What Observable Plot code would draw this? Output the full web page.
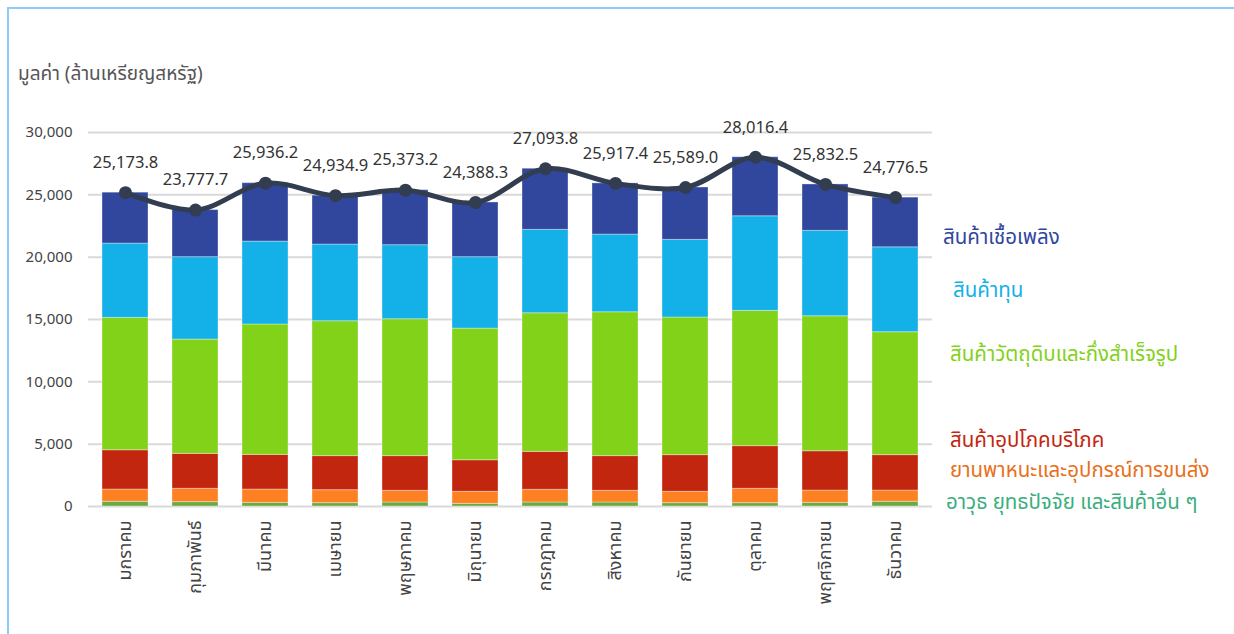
<!DOCTYPE html>
<html>
<head>
<meta charset="utf-8">
<script src="https://cdn.jsdelivr.net/npm/d3@7"></script>
<script src="https://cdn.jsdelivr.net/npm/@observablehq/plot@0.6"></script>
<style>
  html, body { margin: 0; padding: 0; background: #fff; }
  body { width: 1234px; height: 634px; overflow: hidden; position: relative;
         font-family: "Noto Sans Thai", "Noto Sans", "Open Sans", sans-serif; }
  #frame { position: absolute; left: 7px; top: 7px; width: 1240px; height: 640px;
           border-left: 2px solid #8ecbf5; border-top: 2px solid #8ecbf5; box-sizing: border-box; }
  #chart { position: absolute; left: 0; top: 0; }
  #ytitle { position: absolute; left: 18px; top: 60px; font-size: 19px; color: #555; }
  .leg { position: absolute; font-size: 20.5px; white-space: nowrap; }
</style>
</head>
<body>
<div id="frame"></div>
<div id="chart"></div>
<div id="ytitle">มูลค่า (ล้านเหรียญสหรัฐ)</div>
<div id="legend"></div>
<script>
const months = ["มกราคม","กุมภาพันธ์","มีนาคม","เมษายน","พฤษภาคม","มิถุนายน","กรกฎาคม","สิงหาคม","กันยายน","ตุลาคม","พฤศจิกายน","ธันวาคม"];
const seriesNames = ["อาวุธ ยุทธปัจจัย และสินค้าอื่น ๆ","ยานพาหนะและอุปกรณ์การขนส่ง","สินค้าอุปโภคบริโภค","สินค้าวัตถุดิบและกึ่งสำเร็จรูป","สินค้าทุน","สินค้าเชื้อเพลิง"];
// values in million USD
const arms     = [380, 350, 290, 270, 320, 210, 320, 320, 270, 270, 290, 380];
const vehicles = [980, 1070, 1070, 1040, 940, 970, 1020, 940, 910, 1150, 990, 900];
const consumer = [3150, 2800, 2780, 2730, 2780, 2530, 3040, 2780, 2940, 3420, 3150, 2840];
const rawMat   = [10620, 9170, 10460, 10820, 10980, 10560, 11120, 11540, 11040, 10850, 10830, 9860];
const capital  = [5960, 6610, 6650, 6150, 5940, 5730, 6690, 6230, 6230, 7590, 6850, 6810];
const totals   = [25173.8, 23777.7, 25936.2, 24934.9, 25373.2, 24388.3, 27093.8, 25917.4, 25589.0, 28016.4, 25832.5, 24776.5];
const barColors = ["#6aaa3f","#fd8123","#c3260f","#82d219","#13b1e8","#31479e"];
const legendColors = ["#3aae7e","#e8701a","#c3260f","#82d219","#13b1e8","#31479e"];
const yTicks = [0, 5000, 10000, 15000, 20000, 25000, 30000];

const parts = [arms, vehicles, consumer, rawMat, capital];
const rows = [];
months.forEach((m, i) => {
  const known = parts.reduce((s, p) => s + p[i], 0);
  const vals = [...parts.map(p => p[i]), totals[i] - known];
  vals.forEach((v, k) => rows.push({month: m, series: seriesNames[k], order: k, value: v}));
});
const totalRows = months.map((m, i) => ({month: m, total: totals[i]}));
const fmt = d3.format(",.1f");

const chart = Plot.plot({
  width: 1234,
  height: 634,
  marginLeft: 88,
  marginRight: 302,
  marginTop: 132,
  marginBottom: 128,
  style: {fontFamily: '"Noto Sans Thai", "Noto Sans", sans-serif', background: "transparent"},
  x: {domain: months, paddingInner: 0.345, paddingOuter: 0.1725, label: null},
  y: {domain: [0, 30000], label: null},
  color: {domain: seriesNames, range: barColors},
  marks: [
    Plot.gridY(yTicks, {stroke: "#d9d9d9", strokeOpacity: 1, strokeWidth: 2}),
    Plot.axisY({ticks: yTicks, tickSize: 0, tickPadding: 16, tickFormat: d3.format(","), fontSize: 15, color: "#444", label: null}),
    Plot.axisX({tickSize: 0, tickPadding: 14, tickRotate: -90, fontSize: 18, color: "#444", label: null}),
    Plot.barY(rows, {x: "month", y: "value", fill: "series", order: seriesNames, stroke: "#ffffff", strokeOpacity: 0.35, strokeWidth: 1}),
    Plot.line(totalRows, {x: "month", y: "total", stroke: "#323d50", strokeWidth: 5, curve: "catmull-rom"}),
    Plot.dot(totalRows, {x: "month", y: "total", fill: "#323d50", r: 6.5}),
    Plot.text(totalRows, {x: "month", y: "total", text: d => fmt(d.total), dy: -30, fontSize: 16.5, fill: "#333"})
  ]
});
document.getElementById("chart").appendChild(chart);

// legend labels on the right, aligned near their series
const legendPos = [
  {k: 5, left: 943, top: 222},
  {k: 4, left: 953, top: 275},
  {k: 3, left: 950, top: 339},
  {k: 2, left: 950, top: 425},
  {k: 1, left: 950, top: 455},
  {k: 0, left: 946, top: 487}
];
const leg = document.getElementById("legend");
legendPos.forEach(p => {
  const d = document.createElement("div");
  d.className = "leg";
  d.style.left = p.left + "px";
  d.style.top = p.top + "px";
  d.style.color = legendColors[p.k];
  d.textContent = seriesNames[p.k];
  leg.appendChild(d);
});
</script>
</body>
</html>
